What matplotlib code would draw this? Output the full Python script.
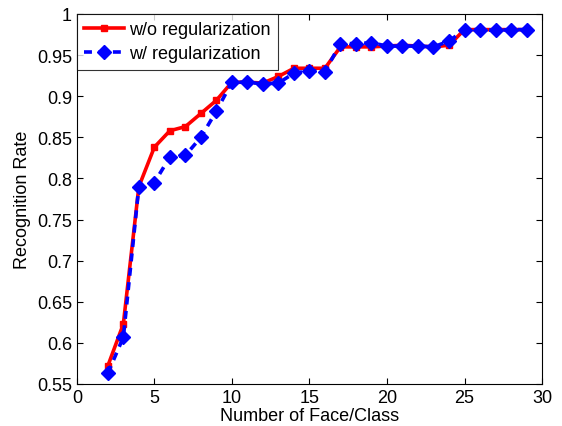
import matplotlib
matplotlib.use("Agg")
import matplotlib.pyplot as plt

plt.rcParams['font.family'] = ['Liberation Sans', 'DejaVu Sans']

x = list(range(2, 30))
wo_reg = [0.572, 0.623, 0.790, 0.838, 0.858, 0.863, 0.879, 0.895, 0.917, 0.917,
          0.916, 0.924, 0.934, 0.934, 0.934, 0.960, 0.960, 0.960, 0.961, 0.962,
          0.961, 0.960, 0.962, 0.981, 0.981, 0.981, 0.981, 0.981]
w_reg = [0.563, 0.607, 0.790, 0.795, 0.826, 0.828, 0.850, 0.882, 0.917, 0.917,
         0.915, 0.916, 0.928, 0.931, 0.930, 0.964, 0.964, 0.965, 0.961, 0.961,
         0.961, 0.960, 0.967, 0.981, 0.981, 0.980, 0.981, 0.981]

xticks = [0, 5, 10, 15, 20, 25, 30]
yticks = [0.55, 0.6, 0.65, 0.7, 0.75, 0.8, 0.85, 0.9, 0.95, 1.0]
yticklabels = ['0.55', '0.6', '0.65', '0.7', '0.75', '0.8', '0.85', '0.9', '0.95', '1']

fig = plt.figure(figsize=(5.62, 4.27), dpi=100)
ax = fig.add_axes([0.1367, 0.0984, 0.8278, 0.8665])

ax.plot(x, wo_reg, color='#ff0000', linewidth=2.6, marker='s', markersize=4.5,
        label='w/o regularization', zorder=3)
ax.plot(x, w_reg, color='#0000ff', linewidth=2.6, linestyle=(0, (2.2, 1.8)),
        marker='D', markersize=7, label='w/ regularization', zorder=4)

ax.set_xlim(0, 30)
ax.set_ylim(0.55, 1.0)
ax.set_xticks(xticks)
ax.set_xticklabels([str(t) for t in xticks])
ax.set_yticks(yticks)
ax.set_yticklabels(yticklabels)
ax.tick_params(direction='in', top=True, right=True, length=4, labelsize=13, width=0.8)
for s in ax.spines.values():
    s.set_linewidth(0.8)

ax.set_xlabel('Number of Face/Class', fontsize=13, labelpad=1)
ax.set_ylabel('Recognition Rate', fontsize=13, labelpad=4)

leg = ax.legend(loc='upper left', fontsize=13, frameon=True, fancybox=False,
                edgecolor='black', borderaxespad=0, handlelength=2.2,
                handletextpad=0.3, borderpad=0.4, labelspacing=0.4)
leg.get_frame().set_linewidth(0.8)

fig.savefig('out.png', dpi=100)
